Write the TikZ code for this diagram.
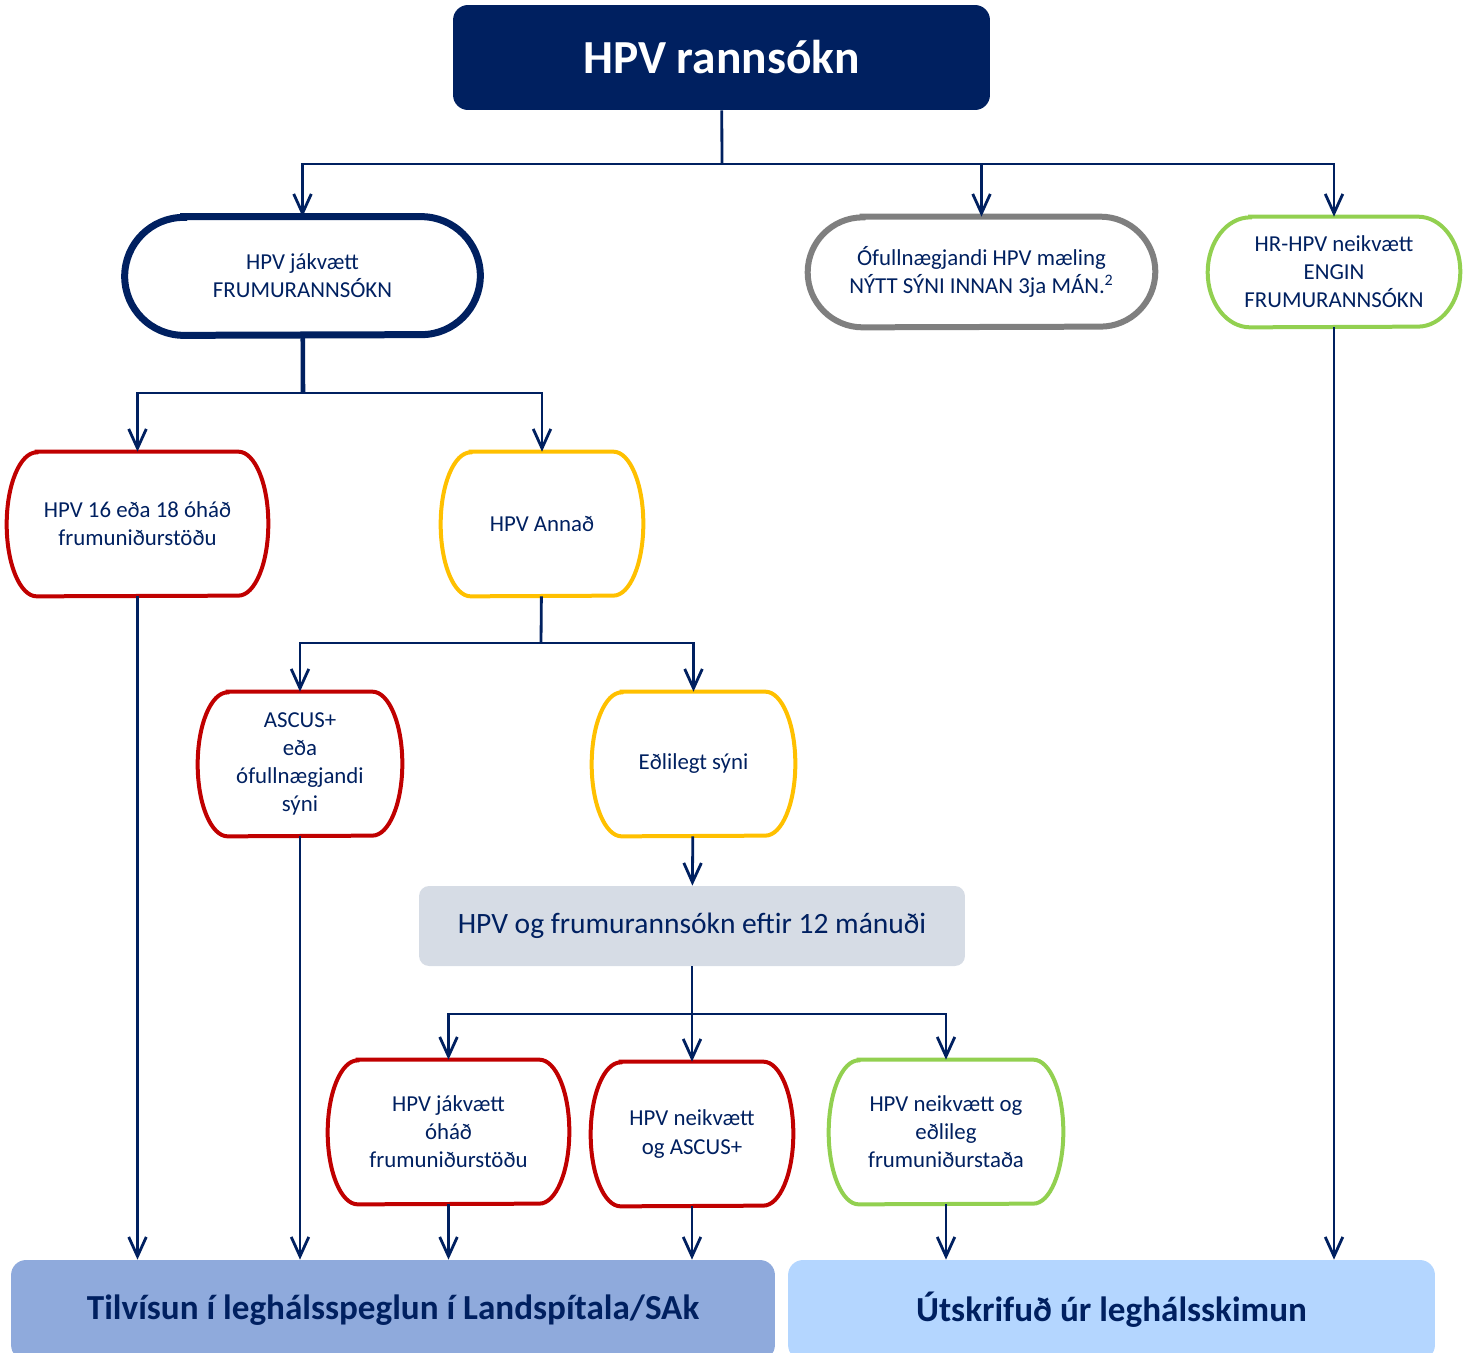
\documentclass[tikz,border=0pt]{standalone}
\usepackage{fontspec}
\setmainfont{Carlito}
\usetikzlibrary{arrows.meta}
\definecolor{hpvnavy}{HTML}{002060}
\definecolor{boxred}{HTML}{C00000}
\definecolor{boxyellow}{HTML}{FFC000}
\definecolor{boxgreen}{HTML}{92D050}
\definecolor{boxgray}{HTML}{7F7F7F}
\definecolor{panelgray}{HTML}{D6DCE5}
\definecolor{refblue}{HTML}{8FAADC}
\definecolor{outblue}{HTML}{B4D6FF}

\begin{document}
\begin{tikzpicture}[x=0.02cm,y=-0.02cm,>={Straight Barb[length=11pt,width=10pt]},
    line/.style={draw=hpvnavy,line width=1.6pt},
    box/.style={align=center,text=hpvnavy,inner sep=0pt,minimum height=2.88cm,font=\fontsize{13}{16}\selectfont},
    panel/.style={align=center,text=hpvnavy,inner sep=0pt,rounded corners=0.3cm,font=\fontsize{20}{24}\selectfont\bfseries}]
            \useasboundingbox (0,0) rectangle (1470,1352);

            \node[fill=hpvnavy,rounded corners=0.3cm,minimum width=10.74cm,minimum height=2.1cm,text=white,inner sep=0pt,font=\fontsize{27}{32}\selectfont\bfseries] (top) at (721.5,57.5) {HPV rannsókn};

            \node[box,minimum width=7.1cm,minimum height=2.36cm] (jak) at (302.5,276) {HPV jákvætt\\FRUMURANNSÓKN};
            \node[box,minimum width=6.94cm,minimum height=2.2cm] (ofu) at (981.5,272) {Ófullnægjandi HPV mæling\\NÝTT SÝNI INNAN 3ja MÁN.\textsuperscript{2}};
            \node[box,minimum width=5.04cm,minimum height=2.2cm] (hrhpv) at (1334,272) {HR-HPV neikvætt\\ENGIN\\FRUMURANNSÓKN};

            \node[box,minimum width=5.22cm] (h16) at (137.5,524) {HPV 16 eða 18 óháð\\frumuniðurstöðu};
            \node[box,minimum width=4.04cm] (ann) at (542,524) {HPV Annað};

            \node[box,minimum width=4.08cm] (asc) at (300,764) {ASCUS+\\eða\\ófullnægjandi\\sýni};
            \node[box,minimum width=4.06cm] (edl) at (693.5,764) {Eðlilegt sýni};

            \node[panel,fill=panelgray,rounded corners=0.2cm,minimum width=10.92cm,minimum height=1.6cm,font=\fontsize{16.8}{20}\selectfont] (mid) at (692,926) {HPV og frumurannsókn eftir 12 mánuði};

            \node[box,minimum width=4.82cm] (pjo) at (448.5,1132) {HPV jákvætt\\óháð\\frumuniðurstöðu};
            \node[box,minimum width=4.04cm] (nasc) at (692,1134) {HPV neikvætt\\og ASCUS+};
            \node[box,minimum width=4.68cm] (neo) at (946,1132) {HPV neikvætt og\\eðlileg\\frumuniðurstaða};

            \node[panel,fill=refblue,minimum width=15.28cm,minimum height=2cm] (ref) at (393,1310) {Tilvísun í leghálsspeglun í Landspítala/SAk};
            \node[panel,fill=outblue,minimum width=12.94cm,minimum height=2cm] (out) at (1111.5,1310) {Útskrifuð úr leghálsskimun};

            % outlines with oval sides
            \foreach \nm/\rx/\ry/\col/\lw in {jak/1.18cm/1.18cm/hpvnavy/0.14cm, ofu/1.1cm/1.1cm/boxgray/0.12cm,
                hrhpv/0.85cm/1.1cm/boxgreen/0.08cm, h16/0.6cm/1.44cm/boxred/0.08cm, ann/0.6cm/1.44cm/boxyellow/0.08cm,
                asc/0.6cm/1.44cm/boxred/0.08cm, edl/0.6cm/1.44cm/boxyellow/0.08cm, pjo/0.6cm/1.44cm/boxred/0.08cm,
                nasc/0.6cm/1.44cm/boxred/0.08cm, neo/0.6cm/1.44cm/boxgreen/0.08cm}
                \draw[draw=\col,line width=\lw] ([xshift=\rx]\nm.north west) -- ([xshift=-\rx]\nm.north east)
                    arc[start angle=90,end angle=-90,x radius=\rx,y radius=\ry] -- ([xshift=\rx]\nm.south west)
                    arc[start angle=270,end angle=90,x radius=\rx,y radius=\ry] -- cycle;

            \coordinate (s1) at (722,164);
            \coordinate (s2) at (303,393);
            \coordinate (s3) at (541,643);
            \coordinate (s4) at (692,1014);

            \draw[line] (top) -- (s1);
            \draw[line,->] (s1) -| (jak.north);
            \draw[line,->] (s1) -| (ofu.north);
            \draw[line,->] (s1) -| (hrhpv.north);

            \draw[line,line width=2.6pt] (jak) -- (s2);
            \draw[line,->] (s2) -| (h16.north);
            \draw[line,->] (s2) -| (ann.north);

            \draw[line] (ann) -- (s3);
            \draw[line,->] (s3) -| (asc.north);
            \draw[line,->] (s3) -| (edl.north);
            \draw[line,->] (edl) -- (mid);

            \draw[line] (mid) -- (s4);
            \draw[line,->] (s4) -| (pjo.north);
            \draw[line,->] (s4) -- (nasc);
            \draw[line,->] (s4) -| (neo.north);

            \draw[line,->] (h16) -- (h16 |- ref.north);
            \draw[line,->] (asc) -- (asc |- ref.north);
            \draw[line,->] (pjo) -- (pjo |- ref.north);
            \draw[line,->] (nasc) -- (nasc |- ref.north);
            \draw[line,->] (neo) -- (neo |- out.north);
            \draw[line,->] (hrhpv) -- (hrhpv |- out.north);
        \end{tikzpicture}
\end{document}
